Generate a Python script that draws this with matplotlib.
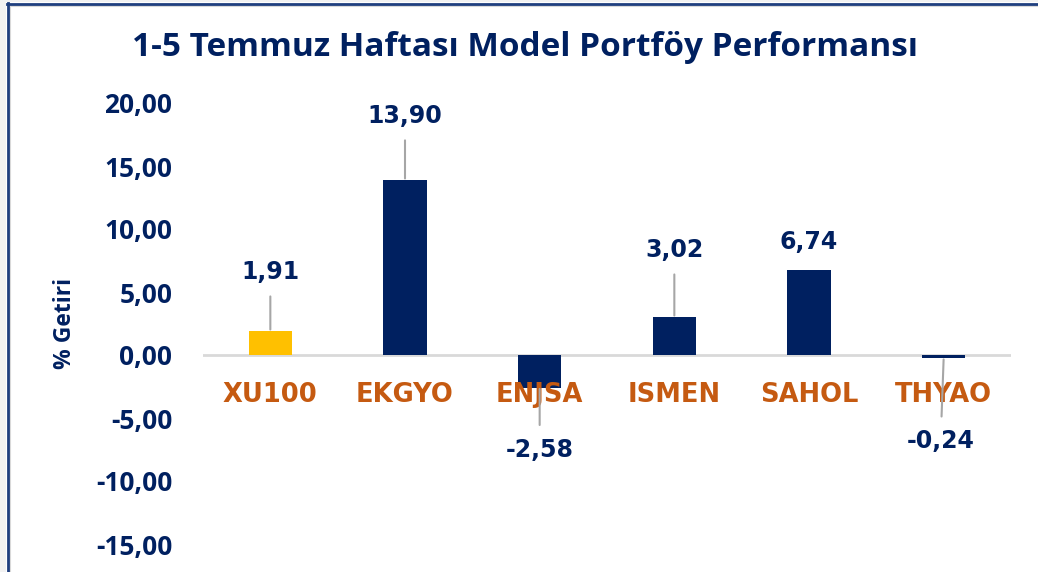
import matplotlib
matplotlib.use("Agg")
import matplotlib.pyplot as plt
from matplotlib.lines import Line2D
from matplotlib.patches import Rectangle

# data
categories = ["XU100", "EKGYO", "ENJSA", "ISMEN", "SAHOL", "THYAO"]
returns = [1.91, 13.90, -2.58, 3.02, 6.74, -0.24]
value_labels = ["1,91", "13,90", "-2,58", "3,02", "6,74", "-0,24"]
y_ticks = [-15, -10, -5, 0, 5, 10, 15, 20]
y_tick_labels = ["-15,00", "-10,00", "-5,00", "0,00", "5,00", "10,00", "15,00", "20,00"]

# label placement (pixel offsets from bar end) and leader lines
label_dx = [0, 0, 0, 0, 0, -3]
label_dy = [59, 64, -62, 67, 28, -83]
leader = [True, True, True, True, False, True]

navy = "#002060"
gold = "#FFC000"
orange = "#C55A11"

W, H = 1038, 572
fig = plt.figure(figsize=(W / 100, H / 100), dpi=100)
fig.patch.set_facecolor("white")

# frame like the screenshot
fig.add_artist(Rectangle((0, 0), 6 / W, 1, transform=fig.transFigure, color="#F2F2F2", lw=0))
fig.add_artist(Rectangle((0, 1 - 2 / H), 1, 2 / H, transform=fig.transFigure, color="#F2F2F2", lw=0))
fig.add_artist(Line2D([9.5 / W, 9.5 / W], [0, 1 - 5 / H], transform=fig.transFigure, color="#D9D9D9", lw=1.5))
fig.add_artist(Line2D([9.5 / W, 1], [1 - 5.5 / H, 1 - 5.5 / H], transform=fig.transFigure, color="#D9D9D9", lw=1.5))
fig.add_artist(Line2D([7.5 / W, 7.5 / W], [0, 1 - 3 / H], transform=fig.transFigure, color="#1F3F7F", lw=2))
fig.add_artist(Line2D([7 / W, 1], [1 - 3.5 / H, 1 - 3.5 / H], transform=fig.transFigure, color="#1F3F7F", lw=2))

ax = fig.add_axes([203 / W, 1 - 544 / H, 808 / W, 441 / H])
ax.set_facecolor("none")

x = list(range(len(categories)))
colors = [gold] + [navy] * (len(categories) - 1)
ax.bar(x, returns, width=0.32, color=colors, zorder=2)
ax.axhline(0, color="#D9D9D9", lw=2, zorder=1)

ax.set_xlim(-0.5, len(categories) - 0.5)
ax.set_ylim(-15, 20)
ax.set_yticks(y_ticks)
ax.set_yticklabels(y_tick_labels, fontfamily="Open Sans", fontweight="bold", fontsize=19, color=navy)
ax.tick_params(axis="y", length=0, pad=22)
ax.set_xticks([])
for s in ax.spines.values():
    s.set_visible(False)

# category names at the zero line
for i, name in enumerate(categories):
    ax.annotate(name, xy=(i, 0), xytext=(0, -40), textcoords="offset pixels",
                ha="center", va="center", fontfamily="DejaVu Sans", fontweight="bold",
                fontsize=18.5, color=orange)

# value labels with leader lines
for i, v in enumerate(returns):
    ap = None
    if leader[i]:
        ap = dict(arrowstyle="-", color="#A6A6A6", lw=1.5, shrinkA=7, shrinkB=1)
    ax.annotate(value_labels[i], xy=(i, v), xytext=(label_dx[i], label_dy[i]),
                textcoords="offset pixels", ha="center", va="center",
                fontfamily="DejaVu Sans", fontweight="bold", fontsize=17,
                color=navy, arrowprops=ap, zorder=3)

fig.text(65 / W, 1 - 323 / H, "% Getiri", rotation=90, ha="center", va="center",
         fontfamily="Open Sans", fontweight="bold", fontsize=16.5, color=navy)
fig.text(525 / W, 1 - 47 / H, "1-5 Temmuz Haftası Model Portföy Performansı",
         ha="center", va="center", fontfamily="Open Sans", fontweight="bold",
         fontsize=24, color=navy)

fig.savefig("out.png", dpi=100)
